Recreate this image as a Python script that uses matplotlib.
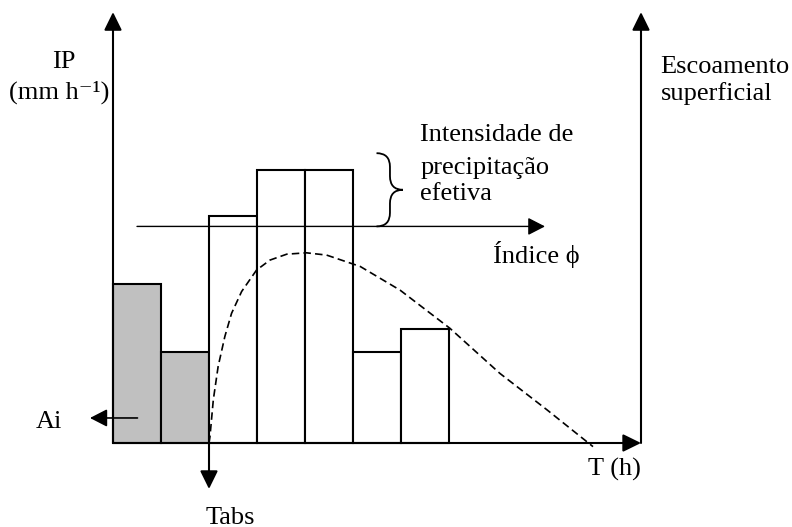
import matplotlib
matplotlib.use("Agg")
import matplotlib.pyplot as plt
from matplotlib.patches import FancyArrowPatch, PathPatch, ArrowStyle
from matplotlib.path import Path

plt.rcParams['font.family'] = ['Liberation Serif', 'DejaVu Serif']

# ---- data ----
bar_start = [0, 1, 2, 3, 4, 5, 6]                  # hours
intensity = [3.5, 2.0, 5.0, 6.0, 6.0, 2.0, 2.5]    # IP (mm/h)
initial_abstraction = [True, True, False, False, False, False, False]
phi_index = 4.76
phi_start, phi_end = 0.5, 9.0
t_abs = 2.0
t_max = 11.0
ip_max = 9.47

runoff_t = [2.0, 2.02, 2.09, 2.19, 2.33, 2.47, 2.68, 2.99, 3.27, 3.62, 4.03,
            4.45, 4.87, 5.15, 5.98, 7.02, 8.06, 9.04, 9.87, 10.0]
runoff_q = [0.0, 0.14, 0.95, 1.68, 2.34, 2.85, 3.33, 3.80, 4.02, 4.15, 4.18,
            4.13, 3.98, 3.88, 3.36, 2.52, 1.53, 0.73, 0.03, -0.08]

W, H = 792, 527
fig = plt.figure(figsize=(W / 100, H / 100), dpi=100)
ax = fig.add_axes([0, 0, 1, 1])
px_x, px_y = 48.0, 45.5
x0, y0 = 113, 443
ax.set_xlim(-x0 / px_x, (W - x0) / px_x)
ax.set_ylim(-(H - y0) / px_y, y0 / px_y)
ax.axis('off')

colors = ['#c0c0c0' if a else 'white' for a in initial_abstraction]
ax.bar(bar_start, intensity, width=1.0, align='edge', color=colors,
       edgecolor='black', linewidth=1.5, zorder=1)

ax.plot(runoff_t, runoff_q, color='black', lw=1.2, linestyle=(0, (4.5, 2.5)),
        zorder=3)


def arrow(p0, p1, lw=1.5, hl=11, hw=5.4):
    a = FancyArrowPatch(p0, p1, arrowstyle=ArrowStyle('-|>', head_length=hl, head_width=hw),
                        mutation_scale=1, lw=lw, color='black',
                        shrinkA=0, shrinkB=0, zorder=4)
    ax.add_patch(a)


arrow((0, 0), (0, ip_max))
arrow((t_max, 0), (t_max, ip_max))
arrow((0, 0), (t_max, 0))
arrow((phi_start, phi_index), (phi_end, phi_index), lw=1.0, hl=10.5)
arrow((t_abs, 0), (t_abs, -1.01))
arrow((0.51, 0.55), (-0.48, 0.55), lw=1.2, hl=10.5)

# brace
bx_l, bx_m, bx_t = 5.49, 5.77, 6.04
by_b, by_t = phi_index, 6.37
by_m = (by_b + by_t) / 2
r = 0.3
verts = [(bx_l, by_t), (bx_m, by_t), (bx_m, by_t - r), (bx_m, by_m + r),
         (bx_m, by_m), (bx_t, by_m),
         (bx_t, by_m), (bx_m, by_m), (bx_m, by_m - r), (bx_m, by_b + r),
         (bx_m, by_b), (bx_l, by_b)]
codes = [Path.MOVETO, Path.CURVE3, Path.CURVE3, Path.LINETO, Path.CURVE3, Path.CURVE3,
         Path.MOVETO, Path.CURVE3, Path.CURVE3, Path.LINETO, Path.CURVE3, Path.CURVE3]
ax.add_patch(PathPatch(Path(verts, codes), fill=False, lw=1.3, color='black', zorder=4))

fs = 19
ax.text(-1.035, 8.24, 'IP', fontsize=fs, ha='center', va='baseline')
ax.text(-1.12, 7.58, '(mm h\u207b\u00b9)', fontsize=fs, ha='center', va='baseline')
ax.text(11.41, 8.13, 'Escoamento', fontsize=fs, ha='left', va='baseline')
ax.text(11.41, 7.54, 'superficial', fontsize=fs, ha='left', va='baseline')
ax.text(6.40, 6.64, 'Intensidade de', fontsize=fs, ha='left', va='baseline')
ax.text(6.40, 5.91, 'precipitação', fontsize=fs, ha='left', va='baseline')
ax.text(6.40, 5.34, 'efetiva', fontsize=fs, ha='left', va='baseline')
ax.text(7.92, 3.95, 'Índice \u03d5', fontsize=fs, ha='left', va='baseline')
ax.text(9.90, -0.725, 'T (h)', fontsize=fs, ha='left', va='baseline')
ax.text(-1.60, 0.34, 'Ai', fontsize=fs, ha='left', va='baseline')
ax.text(2.44, -1.77, 'Tabs', fontsize=fs, ha='center', va='baseline')

fig.savefig('out.png', dpi=100)
